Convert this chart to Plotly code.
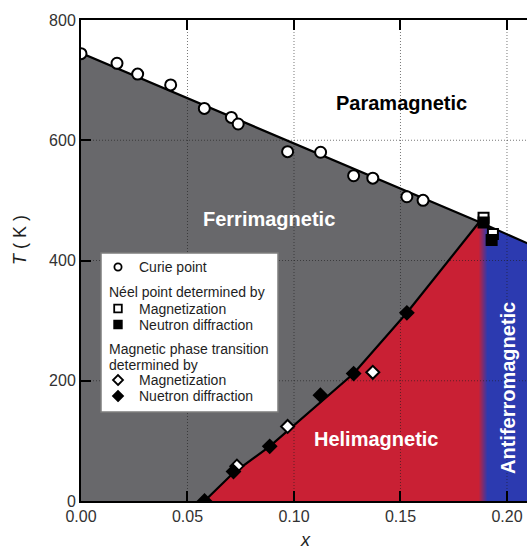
import plotly.graph_objects as go

# ---------------- data ----------------
curie_x = [0.0, 0.0169, 0.0266, 0.0421, 0.0579, 0.0706, 0.0738, 0.097, 0.1125, 0.128, 0.137, 0.153, 0.1606]
curie_T = [744, 728, 710, 692, 653, 638, 627, 581, 580, 541, 537, 506, 500]

neel_mag_x = [0.189, 0.1934]
neel_mag_T = [471, 444]
neel_neu_x = [0.189, 0.1928]
neel_neu_T = [463, 434]

trans_mag_x = [0.0732, 0.097, 0.137]
trans_mag_T = [58, 124, 214]
trans_neu_x = [0.058, 0.0716, 0.0886, 0.1124, 0.128, 0.153]
trans_neu_T = [0, 49, 91, 176, 212, 313]

# phase boundaries
curie_line_x = [0.0, 0.187, 0.21]
curie_line_T = [745, 464, 428]
heli_line_x = [0.058, 0.0716, 0.0886, 0.1084, 0.128, 0.153, 0.187]
heli_line_T = [0, 47, 91, 151, 212, 313, 464]

# red -> blue transition (helimagnetic -> antiferromagnetic)
grad_x = [0.0, 0.1862, 0.1905, 0.21]
grad_z = [0, 0, 1, 1]

x_ticks = [0.0, 0.05, 0.10, 0.15, 0.20]
x_ticktext = ["0.00", "0.05", "0.10", "0.15", "0.20"]
y_ticks = [0, 200, 400, 600, 800]

# ---------------- styling ----------------
FONT = "Liberation Sans, Arial, Helvetica, sans-serif"
GRAY = "rgb(104,104,107)"
RED = "rgb(201,32,52)"
BLUE = "rgb(44,58,176)"
X_MAX = 0.2094
Y_MAX = 800

W, H = 527, 552
ML, MR, MT, MB = 81, 0, 20, 51
PW, PH = W - ML - MR, H - MT - MB


def px2paper(px, py):
    return (px - ML) / PW, (H - MB - py) / PH


fig = go.Figure()

# background gradient (red -> blue)
fig.add_trace(go.Heatmap(
    x=grad_x, y=[0, Y_MAX], z=[grad_z, grad_z],
    colorscale=[[0, RED], [1, BLUE]], zsmooth="best", showscale=False,
    hoverinfo="skip"))

# paramagnetic (white) region above the Curie line
fig.add_trace(go.Scatter(
    x=curie_line_x + [curie_line_x[-1], curie_line_x[0]],
    y=curie_line_T + [Y_MAX, Y_MAX],
    fill="toself", fillcolor="white", mode="lines", line=dict(width=0),
    showlegend=False, hoverinfo="skip"))

# ferrimagnetic (gray) region
fig.add_trace(go.Scatter(
    x=[0.0] + curie_line_x[:2] + heli_line_x[::-1],
    y=[0] + curie_line_T[:2] + heli_line_T[::-1],
    fill="toself", fillcolor=GRAY, mode="lines", line=dict(width=0),
    showlegend=False, hoverinfo="skip"))

# grid lines (dotted) on top of fills
gx, gy = [], []
for v in x_ticks[1:]:
    gx += [v, v, None]
    gy += [0, Y_MAX, None]
for v in y_ticks[1:-1]:
    gx += [0, X_MAX, None]
    gy += [v, v, None]
fig.add_trace(go.Scatter(x=gx, y=gy, mode="lines",
                         line=dict(color="rgba(30,30,30,0.6)", width=1, dash="1px,2px"),
                         showlegend=False, hoverinfo="skip"))

# boundary lines
fig.add_trace(go.Scatter(x=curie_line_x, y=curie_line_T, mode="lines",
                         line=dict(color="black", width=2.2), showlegend=False))
fig.add_trace(go.Scatter(x=heli_line_x, y=heli_line_T, mode="lines",
                         line=dict(color="black", width=2.2), showlegend=False))

# data points
fig.add_trace(go.Scatter(x=curie_x, y=curie_T, mode="markers", name="Curie point",
                         marker=dict(symbol="circle", size=11, color="white",
                                     line=dict(color="black", width=2)), showlegend=False))
fig.add_trace(go.Scatter(x=neel_mag_x, y=neel_mag_T, mode="markers", name="Néel (mag)",
                         marker=dict(symbol="square", size=10, color="white",
                                     line=dict(color="black", width=2)), showlegend=False))
fig.add_trace(go.Scatter(x=neel_neu_x, y=neel_neu_T, mode="markers", name="Néel (neutron)",
                         marker=dict(symbol="square", size=10, color="black",
                                     line=dict(color="black", width=2)), showlegend=False))
fig.add_trace(go.Scatter(x=trans_mag_x, y=trans_mag_T, mode="markers", name="Trans (mag)",
                         marker=dict(symbol="diamond", size=10, color="white",
                                     line=dict(color="black", width=2)), showlegend=False))
fig.add_trace(go.Scatter(x=trans_neu_x, y=trans_neu_T, mode="markers", name="Trans (neutron)",
                         marker=dict(symbol="diamond", size=10, color="black",
                                     line=dict(color="black", width=2)), showlegend=False))

# ---------------- legend box (drawn manually) ----------------
shapes = []
annotations = []
bx0, by0 = px2paper(101, 412)
bx1, by1 = px2paper(278, 253)
shapes.append(dict(type="rect", xref="paper", yref="paper", x0=bx0, y0=by0, x1=bx1, y1=by1,
                   fillcolor="white", line=dict(color="rgb(125,125,125)", width=1.5), layer="above"))

SYM_X = 118
TXT_X = 137
HEAD_X = 107


def sym(kind, py, filled):
    ax, ay = px2paper(SYM_X, py)
    fill = "black" if filled else "white"
    base = dict(xref="paper", yref="paper", xsizemode="pixel", ysizemode="pixel",
                xanchor=ax, yanchor=ay, fillcolor=fill,
                line=dict(color="black", width=1.8), layer="above")
    if kind == "circle":
        base.update(type="circle", x0=-3.6, x1=3.6, y0=-3.6, y1=3.6)
    elif kind == "square":
        base.update(type="rect", x0=-3.8, x1=3.8, y0=-3.8, y1=3.8)
    else:
        base.update(type="path", path="M 0 -5 L 5 0 L 0 5 L -5 0 Z")
    shapes.append(base)


def txt(text, px, py):
    ax, ay = px2paper(px, py)
    annotations.append(dict(xref="paper", yref="paper", x=ax, y=ay, text=text,
                            showarrow=False, xanchor="left", yanchor="middle",
                            font=dict(family=FONT, size=14, color="rgb(30,30,30)")))


sym("circle", 267, False)
txt("Curie point", TXT_X, 267)
txt("Néel point determined by", HEAD_X, 292)
sym("square", 308.5, False)
txt("Magnetization", TXT_X, 308.5)
sym("square", 324.5, True)
txt("Neutron diffraction", TXT_X, 324.5)
txt("Magnetic phase transition", HEAD_X, 349)
txt("determined by", HEAD_X, 364.5)
sym("diamond", 380, False)
txt("Magnetization", TXT_X, 380)
sym("diamond", 396, True)
txt("Nuetron diffraction", TXT_X, 396)

# region labels
LAB = dict(family=FONT, size=20)
annotations += [
    dict(x=0.1505, y=662, text="<b>Paramagnetic</b>", showarrow=False,
         font=dict(LAB, color="black")),
    dict(x=0.0883, y=469, text="<b>Ferrimagnetic</b>", showarrow=False,
         font=dict(LAB, color="white")),
    dict(x=0.1385, y=103, text="<b>Helimagnetic</b>", showarrow=False,
         font=dict(LAB, color="white")),
    dict(x=0.2005, y=188, text="<b>Antiferromagnetic</b>", showarrow=False, textangle=-90,
         font=dict(LAB, color="white")),
]

# axis titles
tx, ty = px2paper(20, 240)
annotations.append(dict(xref="paper", yref="paper", x=tx, y=ty, text="<i>T</i> ( K )",
                        textangle=-90, showarrow=False, xanchor="center", yanchor="middle",
                        font=dict(family=FONT, size=18, color="rgb(30,30,30)")))
xx, xy = px2paper(305, 540)
annotations.append(dict(xref="paper", yref="paper", x=xx, y=xy, text="<i>x</i>",
                        showarrow=False, xanchor="center", yanchor="middle",
                        font=dict(family=FONT, size=18, color="rgb(30,30,30)")))

fig.update_layout(
    width=W, height=H,
    margin=dict(l=ML, r=MR, t=MT, b=MB, autoexpand=False),
    paper_bgcolor="white", plot_bgcolor="white",
    showlegend=False,
    font=dict(family=FONT, size=16, color="rgb(50,50,50)"),
    shapes=shapes, annotations=annotations,
    xaxis=dict(range=[0, X_MAX], tickvals=x_ticks, ticktext=x_ticktext,
               ticks="inside", ticklen=10, tickwidth=2, tickcolor="black",
               showline=True, linewidth=2, linecolor="black", mirror="ticks",
               showgrid=False, zeroline=False, layer="above traces",
               tickfont=dict(family=FONT, size=16, color="rgb(50,50,50)")),
    yaxis=dict(range=[0, Y_MAX], tickvals=y_ticks,
               ticks="inside", ticklen=10, tickwidth=2, tickcolor="black",
               showline=True, linewidth=2, linecolor="black",
               showgrid=False, zeroline=False, layer="above traces",
               tickfont=dict(family=FONT, size=16, color="rgb(50,50,50)")),
)

fig.write_html("out.html", config={"displayModeBar": False},
               post_script="document.body.style.margin='0';document.body.style.overflow='hidden';")
